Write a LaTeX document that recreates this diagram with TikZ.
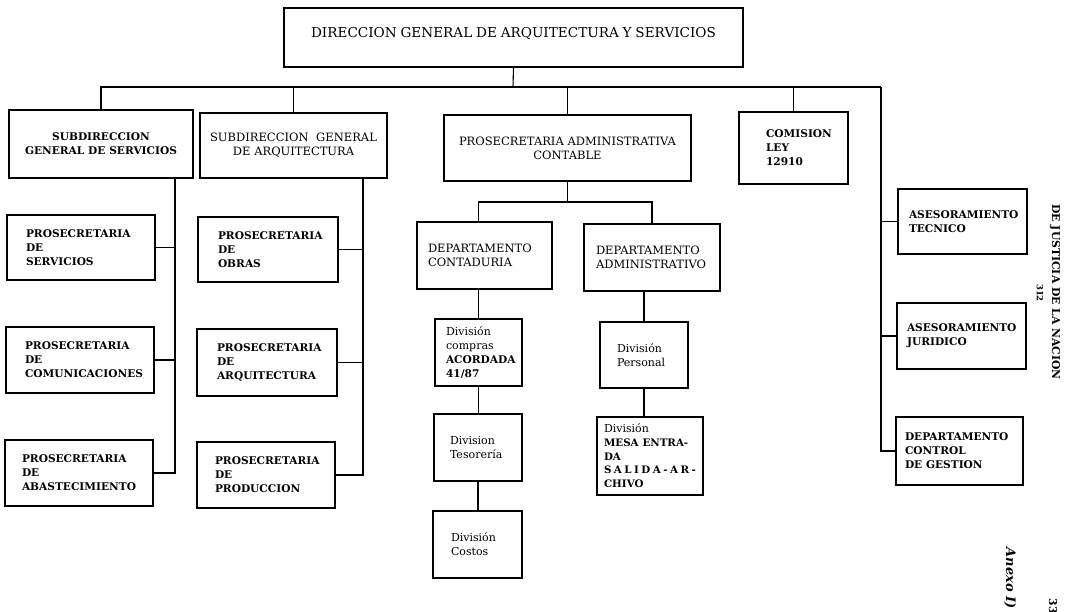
\documentclass[tikz,border=0pt]{standalone}
\usepackage{fontspec}
\setmainfont{DejaVu Serif}
\newcommand\bfnt{\bfseries\fontsize{10.6}{14}\selectfont}
\newcommand\rfnt{\fontsize{11.5}{14}\selectfont}
\newcommand\dfnt{\fontsize{11}{13.7}\selectfont}
\tikzset{
  bx/.style={draw, line width=1.1pt, inner ysep=0pt, outer sep=0pt, font=\rfnt},
  ln/.style={line width=1.1pt},
  side/.style={rotate=-90, inner sep=0pt, font=\bfseries\fontsize{10.8}{12}\selectfont},
}
\newcommand\obox[8]{%
  \pgfmathsetmacro\obw{#4-#2-2*#6}%
  \node[bx, anchor=north west, inner xsep=#6pt, text width=\obw pt,
        minimum height={(#5-#3)*1pt}, align=#7] (#1) at (#2,#3) {#8};%
}
\begin{document}
\begin{tikzpicture}[x=1pt,y=-1pt]
\useasboundingbox (0,0) rectangle (1067,612);
% boxes
\obox{top}{284}{8}{743}{67}{6}{center}{\fontsize{13.6}{15}\selectfont DIRECCION GENERAL DE ARQUITECTURA Y SERVICIOS\par\kern7pt}
\obox{ss}{9}{110}{193}{178}{4}{center}{\bfnt SUBDIRECCION\\GENERAL DE SERVICIOS}
\obox{sa}{200}{113}{387}{178}{4}{center}{SUBDIRECCION\ \ GENERAL\\DE ARQUITECTURA}
\obox{pa}{444}{115}{691}{181}{4}{center}{PROSECRETARIA ADMINISTRATIVA\\CONTABLE}
\obox{cm}{739}{112}{848}{184}{27}{left}{\bfnt COMISION\\LEY\\12910}
\obox{ps}{7}{215}{155}{280}{19}{left}{\bfnt PROSECRETARIA\\DE\\SERVICIOS}
\obox{pc}{6}{327}{154}{393}{19}{left}{\bfnt PROSECRETARIA\\DE\\COMUNICACIONES}
\obox{pb}{5}{440}{153}{506}{17}{left}{\bfnt PROSECRETARIA\\DE\\ABASTECIMIENTO}
\obox{po}{198}{217}{338}{282}{20}{left}{\bfnt PROSECRETARIA\\DE\\OBRAS}
\obox{pq}{197}{329}{337}{396}{20}{left}{\bfnt PROSECRETARIA\\DE\\ARQUITECTURA}
\obox{pp}{197}{442}{335}{508}{18}{left}{\bfnt PROSECRETARIA\\DE\\PRODUCCION}
\obox{dc}{417}{222}{552}{289}{11}{left}{DEPARTAMENTO\\CONTADURIA}
\obox{da}{584}{224}{720}{291}{12}{left}{DEPARTAMENTO\\ADMINISTRATIVO}
\obox{dv1}{435}{319}{522}{386}{11}{left}{\dfnt División\\compras\\{\bfnt ACORDADA\\41/87}}
\obox{dv2}{434}{414}{522}{481}{16}{left}{\dfnt Division\\Tesorería}
\obox{dv3}{433}{511}{522}{578}{18}{left}{\dfnt División\\Costos}
\obox{dp}{600}{322}{688}{388}{17}{left}{\dfnt División\\Personal}
\obox{dm}{597}{417}{703}{495}{7}{left}{\dfnt División\\{\bfseries\fontsize{10.3}{13.7}\selectfont\makebox[\linewidth][s]{MESA ENTRA-}\\DA\\\makebox[\linewidth][s]{S\hfil A\hfil L\hfil I\hfil D\hfil A\hfil -\hfil A\hfil R\hfil -}\\CHIVO}}
\obox{at}{898}{189}{1027}{254}{11}{left}{\bfnt ASESORAMIENTO\\TECNICO}
\obox{aj}{897}{303}{1026}{369}{10}{left}{\bfnt ASESORAMIENTO\\JURIDICO}
\obox{cg}{896}{417}{1023}{485}{9}{left}{\bfnt DEPARTAMENTO\\CONTROL\\DE GESTION}
% main bus
\coordinate (bus) at (513,87);
\coordinate (rt) at (881,87);
\draw[ln] (top.south) -- (bus);
\draw[ln] (ss.north) |- (rt);
\draw[ln] (sa.north) -- (sa.north |- bus);
\draw[ln] (pa.north) -- (pa.north |- bus);
\draw[ln] (cm.north) -- (cm.north |- bus);
% right trunk
\draw[ln] (rt) |- (cg.west);
\draw[ln] (at.west) -- (at.west -| rt);
\draw[ln] (aj.west) -- (aj.west -| rt);
% left trunks
\coordinate (lt) at (175,178);
\draw[ln] (lt) |- (pb.east);
\draw[ln] (ps.east) -- (ps.east -| lt);
\draw[ln] (pc.east) -- (pc.east -| lt);
\coordinate (lt2) at (363,178);
\draw[ln] (lt2) |- (pp.east);
\draw[ln] (po.east) -- (po.east -| lt2);
\draw[ln] (pq.east) -- (pq.east -| lt2);
% lower part
\draw[ln] (pa.south) -- ++(0,21) coordinate (sb);
\draw[ln] (dc.north -| dv1.north) |- (sb) -| (da.north);
\draw[ln] (dc.south -| dv1.north) -- (dv1.north);
\draw[ln] (dv1.south) -- (dv1.south |- dv2.north);
\draw[ln] (dv2.south) -- (dv2.south |- dv3.north);
\draw[ln] (da.south -| dp.north) -- (dp.north);
\draw[ln] (dp.south) -- (dp.south |- dm.north);
% side texts
\node[side] (jus) at (1055,292) {DE JUSTICIA DE LA NACION};
\node[side, font=\bfseries\fontsize{8.5}{9}\selectfont] (num) at (1040,293) {312};
\node[side, font=\bfseries\itshape\fontsize{13}{14}\selectfont] (anx) at (1010,578) {Anexo I)};
\node[side] (pg) at (1053,606) {33};
\end{tikzpicture}
\end{document}
